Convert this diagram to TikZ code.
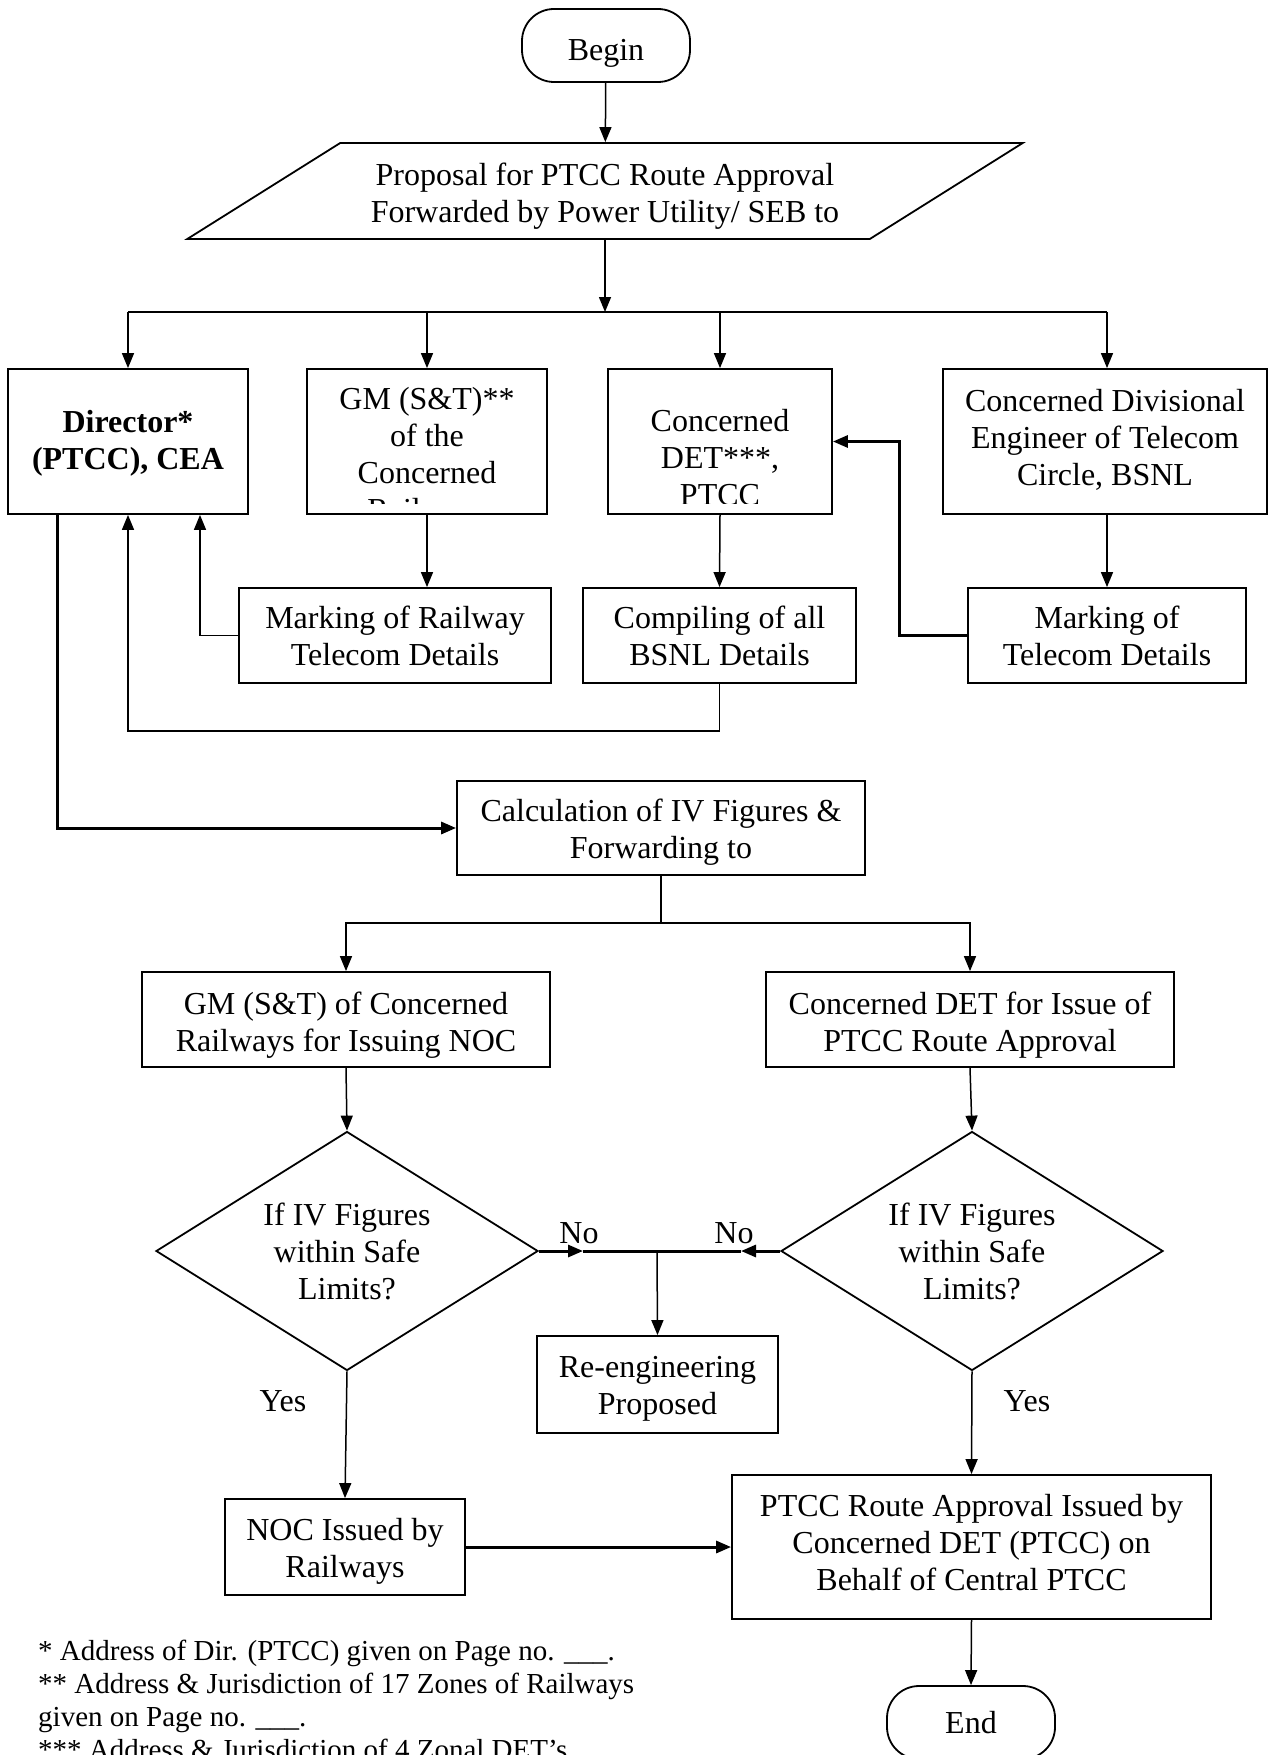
\documentclass[tikz,border=0pt]{standalone}
\usepackage{fontspec}
\setmainfont{Liberation Serif}
\usetikzlibrary{shapes.geometric,arrows.meta}

\tikzset{
  txt/.style={inner sep=0pt, align=center, font=\fontsize{32}{37}\selectfont},
  box/.style={txt, draw, line width=1.8pt},
  term/.style={box, rounded corners=32pt, minimum width=168pt, minimum height=73pt},
  decision/.style={box, diamond, aspect=1.6, minimum width=382pt, minimum height=239pt},
  io/.style={box, trapezium, trapezium left angle=29.3, trapezium right angle=150.7,
    trapezium stretches=true, minimum width=842pt, minimum height=96pt},
  flow/.style={->, line width=1.5pt},
  bold flow/.style={->, line width=3pt},
}

\begin{document}
\begin{tikzpicture}[x=1pt, y=-1pt, >={Triangle[length=15pt,width=12pt]}]
    \useasboundingbox (0,0) rectangle (1269,1755);

    % Start and proposal
    \node[term] (begin) at (606,45.5) {\rule{0pt}{36pt}Begin};
    \node[io] (prop) at (605,191) {\rule{0pt}{32pt}Proposal for PTCC Route Approval\\Forwarded by Power Utility/ SEB to};

    % First row of offices
    \node[box, font=\fontsize{32}{37}\selectfont\bfseries, minimum width=240pt, minimum height=145pt] (dir) at (128,441.5) {\rule{0pt}{26pt}Director*\\(PTCC), CEA};
    \node[box, minimum width=240pt, minimum height=145pt] (gm) at (427,441.5) {};
    \node[box, minimum width=224pt, minimum height=145pt] (det) at (720,441.5) {};
    \node[box, minimum width=324pt, minimum height=145pt] (bsnl) at (1105,441.5) {Concerned Divisional\\Engineer of Telecom\\Circle, BSNL\rule[-8pt]{0pt}{8pt}};

    % Text running out of the two boxes is cut off
    \begin{scope}
        \clip (gm.north west) rectangle ([yshift=11pt]gm.south east);
        \node[txt] (gmtext) at (427,457) {GM (S\&T)**\\of the\\Concerned\\Railways};
    \end{scope}
    \begin{scope}
        \clip (det.north west) rectangle ([yshift=11pt]det.south east);
        \node[txt] (dettext) at (720,458) {Concerned\\DET***,\\PTCC};
    \end{scope}

    % Second row: details
    \node[box, minimum width=312pt, minimum height=95pt] (markrail) at (395,635.5) {Marking of Railway\\Telecom Details};
    \node[box, minimum width=273pt, minimum height=95pt] (compile) at (719.5,635.5) {Compiling of all\\BSNL Details};
    \node[box, minimum width=278pt, minimum height=95pt] (marktel) at (1107,635.5) {Marking of\\Telecom Details};

    % Calculation and forwarding
    \node[box, minimum width=408pt, minimum height=94pt] (calc) at (661,828) {\rule{0pt}{30pt}Calculation of IV Figures \&\\Forwarding to};
    \node[box, minimum width=408pt, minimum height=95pt] (gmnoc) at (346,1019.5) {\rule{0pt}{33pt}GM (S\&T) of Concerned\\Railways for Issuing NOC};
    \node[box, minimum width=408pt, minimum height=95pt] (detiss) at (970,1019.5) {\rule{0pt}{33pt}Concerned DET for Issue of\\PTCC Route Approval};

    % Checks
    \node[decision] (ldec) at (347,1251) {If IV Figures\\within Safe\\Limits?};
    \node[decision] (rdec) at (972,1251) {If IV Figures\\within Safe\\Limits?};
    \node[box, minimum width=241pt, minimum height=97pt] (reeng) at (657.5,1384.5) {\rule{0pt}{30pt}Re-engineering\\Proposed};

    % Results
    \node[box, minimum width=240pt, minimum height=96pt] (noc) at (345,1547) {\rule{0pt}{30pt}NOC Issued by\\Railways};
    \node[box, minimum width=479pt, minimum height=144pt] (approve) at (971.5,1547) {PTCC Route Approval Issued by\\Concerned DET (PTCC) on\\Behalf of Central PTCC\rule[-9pt]{0pt}{9pt}};
    \node[term] (end) at (971,1722.5) {End};

    % Labels on the branches
    \node[txt] (nol) at (579,1233) {No};
    \node[txt] (nor) at (734,1233) {No};
    \node[txt] (yesl) at (283,1401) {Yes};
    \node[txt] (yesr) at (1027,1401) {Yes};

    % Notes
    \node[txt, font=\fontsize{29}{33}\selectfont, align=left, anchor=north west] (notes) at (38,1640)
        {* Address of Dir. (PTCC) given on Page no. \_\_\_.\\
         ** Address \& Jurisdiction of 17 Zones of Railways\\
         given on Page no. \_\_\_.\\
         *** Address \& Jurisdiction of 4 Zonal DET’s};

    % Top connectors
    \coordinate (split) at (605,312);
    \draw[flow] (begin) -- (prop);
    \draw[flow] (prop) -- (split);
    \draw[line width=1.5pt] (dir.north |- split) -- ([xshift=2pt]bsnl.north |- split);
    \draw[flow] (dir.north |- split) -- (dir.north);
    \draw[flow] (gm.north |- split) -- (gm.north);
    \draw[flow] (det.north |- split) -- (det.north);
    \draw[flow] ([xshift=2pt]bsnl.north |- split) -- ([xshift=2pt]bsnl.north);

    % Details go back to the Director and DET
    \draw[flow] (gm.south) -- (gm.south |- markrail.north);
    \draw[flow] (det.south) -- (compile.north);
    \draw[flow] ([xshift=2pt]bsnl.south) -- ([xshift=2pt]bsnl.south |- marktel.north);
    \draw[flow] (markrail.west) -| ([xshift=72pt]dir.south);
    \draw[flow] (compile.south) -- ++(0,47) -| (dir.south);
    \draw[bold flow] (marktel.west) -- ++(-68,0) |- (det.east);
    \draw[bold flow] ([xshift=-71pt]dir.south) |- (calc.west);

    % Forwarding
    \coordinate (fork) at (661,923);
    \draw[line width=1.5pt] (calc.south) -- (fork);
    \draw[flow] (fork) -| (gmnoc.north);
    \draw[flow] (fork) -| (detiss.north);
    \draw[flow] (gmnoc.south) -- (ldec.north);
    \draw[flow] (detiss.south) -- (rdec.north);

    % No branches meet at re-engineering
    \coordinate (merge) at (657,1251);
    \coordinate (noL) at (583,1251);
    \coordinate (noR) at (741,1251);
    \draw[bold flow] (ldec.east) -- (noL);
    \draw[bold flow] (rdec.west) -- (noR);
    \draw[line width=3pt] (noL) -- (noR);
    \draw[flow] (merge) -- (reeng.north);

    % Yes branches
    \draw[flow] (ldec.south) -- (noc.north);
    \draw[flow] (rdec.south) -- (approve.north);
    \draw[bold flow] (noc.east) -- (approve.west);
    \draw[flow] (approve.south) -- (end.north);
\end{tikzpicture}
\end{document}
